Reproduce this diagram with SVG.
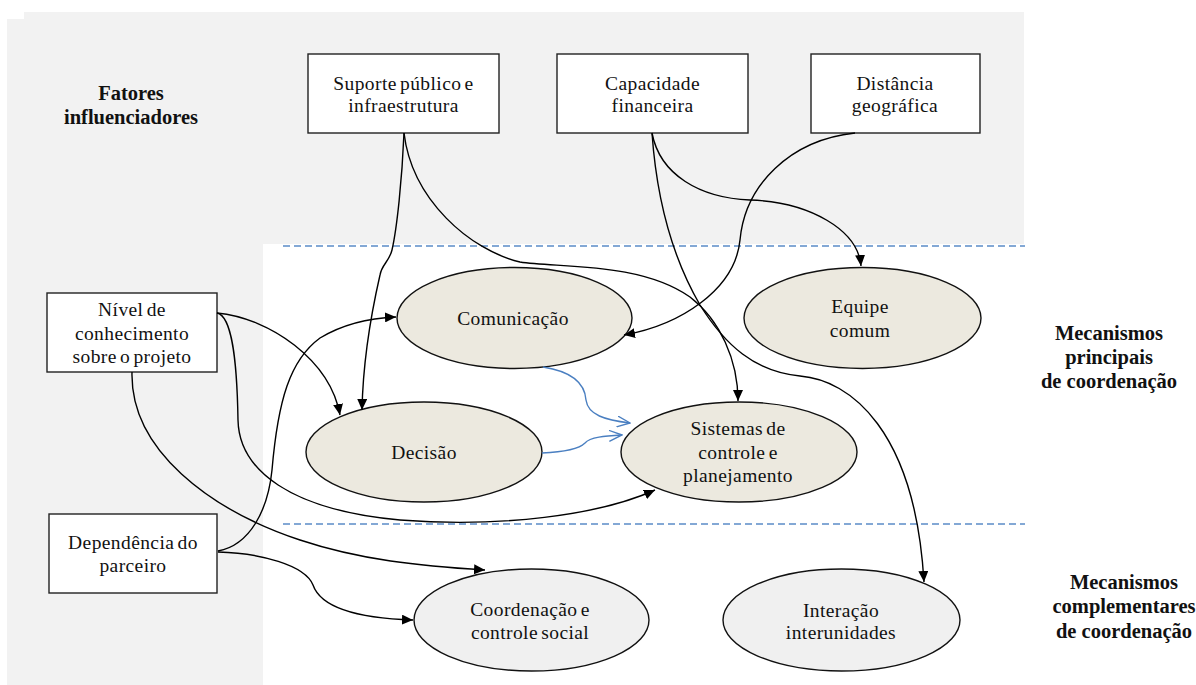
<svg xmlns="http://www.w3.org/2000/svg" width="1196" height="685" viewBox="0 0 1196 685">
<style>
.t{font-family:"Liberation Serif","Times New Roman",serif;font-size:19.5px;letter-spacing:0.4px;word-spacing:-2px;fill:#111;text-anchor:middle}
.h{font-family:"Liberation Serif","Times New Roman",serif;font-size:20.5px;font-weight:bold;fill:#111;text-anchor:middle}
.box{fill:#fff;stroke:#222;stroke-width:1.4}
.e1{fill:#ece9df;stroke:#111;stroke-width:1.4}
.e2{fill:#f0f0f0;stroke:#111;stroke-width:1.4}
.c{fill:none;stroke:#000;stroke-width:1.4}
.b{fill:none;stroke:#4a7fc1;stroke-width:1.4}
.d{fill:none;stroke:#5b8cc8;stroke-width:1.6;stroke-dasharray:7,4}
</style>
<defs>
<marker id="ah" markerUnits="userSpaceOnUse" markerWidth="12" markerHeight="10" refX="11" refY="5" orient="auto">
<path d="M0,0 L11,5 L0,10 Z" fill="#000"/>
</marker>
<marker id="bh" markerUnits="userSpaceOnUse" markerWidth="14" markerHeight="12" refX="13" refY="6" orient="auto">
<path d="M0,0.5 L13,6 L0,11.5" fill="none" stroke="#4a7fc1" stroke-width="1.4"/>
</marker>
</defs>
<rect width="1196" height="685" fill="#fff"/>
<path d="M24,12 H1024 V244 H263 V685 H7 V19 H24 Z" fill="#f2f2f2"/>
<line class="d" x1="283" y1="246" x2="1025" y2="246"/>
<line class="d" x1="283" y1="524" x2="1025" y2="524"/>

<g id="label-fatores"><text class="h" x="131" y="100">Fatores</text><text class="h" x="131" y="124">influenciadores</text></g>
<g id="label-principais"><text class="h" x="1109" y="340">Mecanismos</text><text class="h" x="1109" y="364">principais</text><text class="h" x="1109" y="388">de coordenação</text></g>
<g id="label-complementares"><text class="h" x="1124" y="589">Mecanismos</text><text class="h" x="1124" y="613">complementares</text><text class="h" x="1124" y="638">de coordenação</text></g>

<g id="suporte"><rect class="box" x="308" y="54" width="191" height="79"/><text class="t" x="403.5" y="89.5">Suporte público e</text><text class="t" x="403.5" y="111.5">infraestrutura</text></g>
<g id="capacidade"><rect class="box" x="557" y="54" width="191" height="79"/><text class="t" x="652.5" y="90">Capacidade</text><text class="t" x="652.5" y="112">financeira</text></g>
<g id="distancia"><rect class="box" x="811" y="54" width="169" height="79"/><text class="t" x="895" y="89.5">Distância</text><text class="t" x="895" y="111.5">geográfica</text></g>
<g id="nivel"><rect class="box" x="47" y="293" width="170" height="79"/><text class="t" x="132" y="316">Nível de</text><text class="t" x="132" y="340">conhecimento</text><text class="t" x="132" y="363">sobre o projeto</text></g>
<g id="dependencia"><rect class="box" x="49" y="514" width="168" height="79"/><text class="t" x="133" y="549">Dependência do</text><text class="t" x="133" y="572">parceiro</text></g>

<g id="comunicacao"><ellipse class="e1" cx="514.5" cy="318" rx="117.5" ry="50.5"/><text class="t" x="513" y="325">Comunicação</text></g>
<g id="equipe"><ellipse class="e1" cx="862.5" cy="318" rx="118.5" ry="50.5"/><text class="t" x="860" y="313">Equipe</text><text class="t" x="860" y="337">comum</text></g>
<g id="decisao"><ellipse class="e1" cx="424" cy="452" rx="118" ry="50"/><text class="t" x="424" y="459">Decisão</text></g>
<g id="sistemas"><ellipse class="e1" cx="739" cy="452" rx="118" ry="50"/><text class="t" x="738" y="435">Sistemas de</text><text class="t" x="738" y="459">controle e</text><text class="t" x="738" y="482">planejamento</text></g>
<g id="coordenacao"><ellipse class="e2" cx="531.5" cy="620" rx="117.5" ry="51"/><text class="t" x="530" y="616">Coordenação e</text><text class="t" x="530" y="639">controle social</text></g>
<g id="interacao"><ellipse class="e2" cx="841.5" cy="620" rx="118.5" ry="51"/><text class="t" x="841" y="617">Interação</text><text class="t" x="841" y="639">interunidades</text></g>

<g id="connectors">
<path class="c" marker-end="url(#ah)" d="M404,133 C402,180 397,228 392,250 C389,262 382,264 380,275 C372,310 363,360 362,410"/>
<path class="c" marker-end="url(#ah)" d="M404,133 C412,200 470,250 520,262 C560,268 640,262 690,297 C720,320 738,360 738,401"/>
<path class="c" marker-end="url(#ah)" d="M652,133 C660,175 700,198 750,200 C810,202 858,230 861,266"/>
<path class="c" marker-end="url(#ah)" d="M652,133 C656,190 668,250 700,305 C725,345 755,372 800,376 C850,380 915,430 924,582"/>
<path class="c" marker-end="url(#ah)" d="M855,133 C790,140 745,185 740,240 C735,290 680,325 624,335"/>
<path class="c" marker-end="url(#ah)" d="M217,313 C270,318 330,360 340,415"/>
<path class="c" marker-end="url(#ah)" d="M217,313 C232,316 237,360 238,420 C239,470 290,510 400,520 C500,528 600,515 655,490"/>
<path class="c" marker-end="url(#ah)" d="M218,551 C250,545 268,510 272,470 C278,400 290,360 320,338 C345,323 370,318 396,317"/>
<path class="c" marker-end="url(#ah)" d="M218,552 C260,553 305,565 313,585 C320,605 350,618 413,620"/>
<path class="c" marker-end="url(#ah)" d="M132,372 C130,450 210,510 300,540 C360,560 420,566 485,570"/>
<path class="b" marker-end="url(#bh)" d="M543,367 C575,372 585,385 586,400 C588,415 605,420 630,423"/>
<path class="b" marker-end="url(#bh)" d="M542,453 C565,452 580,448 585,443 C590,437 605,436 622,435"/>
</g>
</svg>
